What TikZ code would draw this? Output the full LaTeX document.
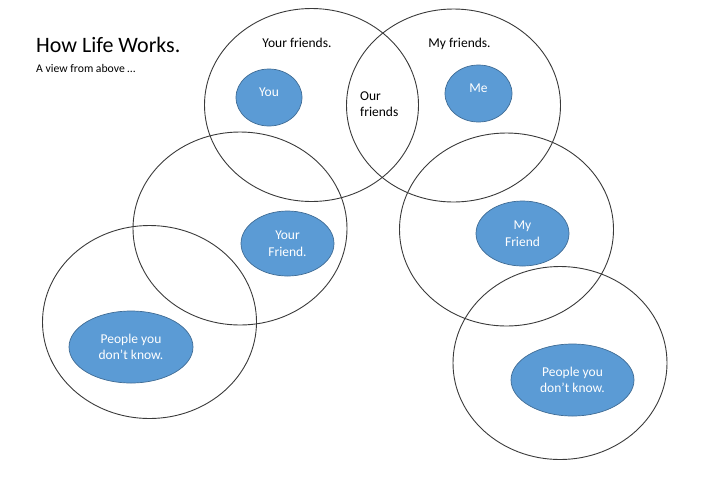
\documentclass[tikz,border=0pt]{standalone}
\usepackage{fontspec}
\setmainfont{Carlito}
\usetikzlibrary{shapes.geometric}
\definecolor{ringgray}{HTML}{3A3A3A}
\definecolor{personblue}{HTML}{5B9BD5}
\colorlet{personedge}{personblue!70!black}

\tikzset{
  circle of friends/.style={ellipse, draw=ringgray, line width=0.9pt,
    inner sep=0pt, minimum width=214pt, minimum height=193pt},
  person/.style={ellipse, draw=personedge, fill=personblue, line width=0.7pt,
    inner sep=0pt, text=white, align=center,
    font=\fontsize{13.5}{16.5}\selectfont},
  ringlabel/.style={inner sep=0pt, font=\fontsize{13.5}{16.5}\selectfont},
  % one-line names sit a little above the middle of their oval
  raised/.style={text depth=11pt}
}

\begin{document}
\begin{tikzpicture}[x=1pt, y=-1pt]
  \useasboundingbox (0,0) rectangle (711,499);

  % title, top left
  \node[anchor=base west, inner sep=0pt, font=\fontsize{22}{26}\selectfont]
    (title) at (36,52.3) {How Life Works.};
  \node[anchor=base west, inner sep=0pt, font=\fontsize{11.7}{14}\selectfont]
    (subtitle) at (36,72.5) {A view from above …};

  % the six rings, drawn first so the ovals lie on top
  \node[circle of friends] (yourring)    at (311.5,105)   {};
  \node[circle of friends] (myring)      at (453.5,105.5) {};
  \node[circle of friends] (yourfriendring) at (240,228.5) {};
  \node[circle of friends] (myfriendring)   at (506.5,229.5) {};
  \node[circle of friends] (strangersleft)  at (149.5,322) {};
  \node[circle of friends] (strangersright) at (560,363)  {};

  % ring captions
  \node[ringlabel, anchor=base] (yourfriends) at (297,47.5)   {Your friends.};
  \node[ringlabel, anchor=base] (myfriends)   at (459.5,47.5) {My friends.};
  \node[ringlabel, anchor=west, align=left] (ourfriends) at (360,104.3)
    {Our\\friends};

  % the people
  \node[person, raised, minimum width=66pt, minimum height=57pt]
    (you) at (269,97.5) {You};
  \node[person, raised, minimum width=67pt, minimum height=57pt]
    (me) at (478.5,93.5) {Me};
  \node[person, minimum width=93pt, minimum height=65pt]
    (yourfriend) at (287.5,243.5) {Your\\Friend.};
  \node[person, minimum width=93pt, minimum height=65pt]
    (myfriend) at (522.5,233.5) {My\\Friend};
  \node[person, minimum width=124pt, minimum height=72pt]
    (strangerleft) at (131,347) {People you\\don’t know.};
  \node[person, minimum width=123pt, minimum height=72pt]
    (strangerright) at (572.5,380) {People you\\don’t know.};
\end{tikzpicture}
\end{document}
